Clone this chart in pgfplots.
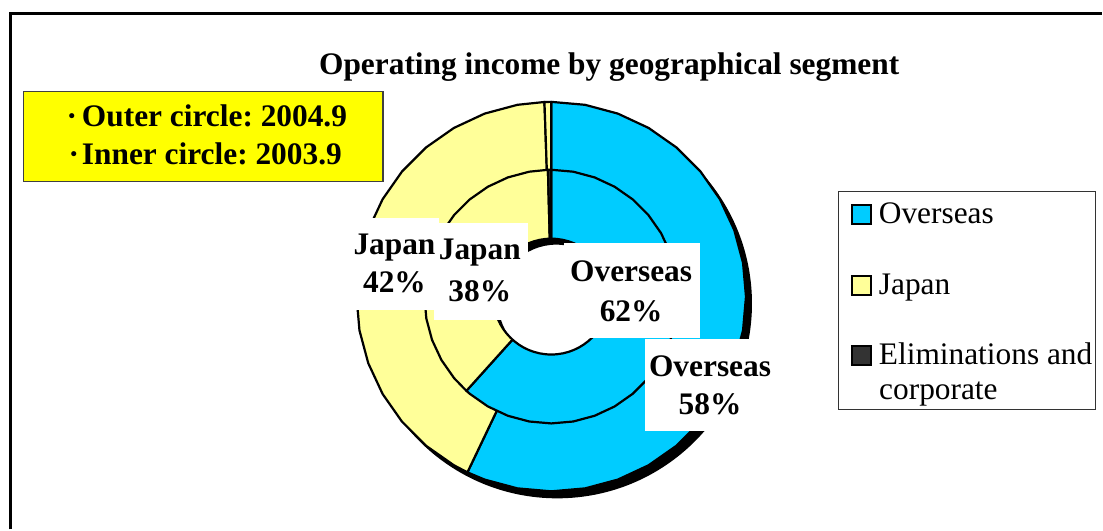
\documentclass[border=0pt]{standalone}
\usepackage{pgfplots}
\pgfplotsset{compat=1.18}
\usepackage{fontspec}
\setmainfont{Liberation Serif}
\frenchspacing
\definecolor{ovs}{HTML}{00CCFF}
\definecolor{jpn}{HTML}{FFFF99}
\definecolor{elim}{HTML}{333333}
\definecolor{ybox}{HTML}{FFFF00}
\newcommand\fs{\fontsize{15.7}{18}\selectfont}
\newcommand\swatch[1]{\raisebox{0.5pt}{\setlength\fboxsep{0pt}\setlength\fboxrule{1pt}\fcolorbox{black}{#1}{\rule{0pt}{8.5pt}\rule{8.5pt}{0pt}}}}
\tikzset{lbl/.style={font=\fs\bfseries,anchor=base,inner sep=0pt},
leg/.style={font=\fs,anchor=base west,inner sep=0pt}}
\pgfplotsset{pol/.style={data cs=polar,draw=black,line width=1.1pt,line join=round}}

\begin{document}
\begin{tikzpicture}
\begin{axis}[scale only axis,width=551.5pt,height=265pt,
xmin=-552,xmax=551,ymin=-233,ymax=297,hide axis,clip=false,enlargelimits=false]
% whole picture area, so the page keeps the reference's size
\path (axis cs:-552,-233) rectangle (axis cs:551,297);
% frame of the chart area
\draw[line width=1.5pt] (axis cs:-541,-233) -- (axis cs:-541,283) -- (axis cs:551,283);
% shadow of the rings
\fill[black] (axis cs:6,-7) circle[radius=195];
% outer circle (2004.9): Overseas 58%, Japan 42%, eliminations (tiny)
\addplot[pol,fill=ovs] coordinates {(0,0) (90,195) (80,195) (70,195) (60,195) (50,195) (40,195) (30,195) (20,195) (10,195) (0,195) (-10,195) (-20,195) (-30,195) (-40,195) (-50,195) (-60,195) (-70,195) (-80,195) (-90,195) (-100,195) (-110,195) (-115.5,195)} -- cycle;
\addplot[pol,fill=jpn] coordinates {(0,0) (244.5,195) (240,195) (230,195) (220,195) (210,195) (200,195) (190,195) (180,195) (170,195) (160,195) (150,195) (140,195) (130,195) (120,195) (110,195) (100,195) (92,195)} -- cycle;
\addplot[pol,fill=jpn] coordinates {(0,0) (92,195) (90,195)} -- cycle;
% inner circle (2003.9): Overseas 62%, Japan 38%, eliminations (tiny)
\addplot[pol,fill=ovs] coordinates {(0,0) (90,127) (80,127) (70,127) (60,127) (50,127) (40,127) (30,127) (20,127) (10,127) (0,127) (-10,127) (-20,127) (-30,127) (-40,127) (-50,127) (-60,127) (-70,127) (-80,127) (-90,127) (-100,127) (-110,127) (-120,127) (-130,127) (-132,127)} -- cycle;
\addplot[pol,fill=jpn] coordinates {(0,0) (228,127) (220,127) (210,127) (200,127) (190,127) (180,127) (170,127) (160,127) (150,127) (140,127) (130,127) (120,127) (110,127) (100,127) (91.5,127)} -- cycle;
\addplot[pol,fill=elim] coordinates {(0,0) (91.5,127) (90,127)} -- cycle;
% hole with its shadow
\fill[white] (axis cs:0,0) circle[radius=58];
\begin{scope}
\clip (axis cs:0,0) circle[radius=58];
\fill[black,even odd rule] (axis cs:-80,-80) rectangle (axis cs:80,80) (axis cs:5,-6) circle[radius=58];
\end{scope}
\draw[line width=1.1pt] (axis cs:0,0) circle[radius=58];
% data labels
\fill[white] (axis cs:-197,78.7) rectangle (axis cs:-112,-13);
\fill[white] (axis cs:-117,73.7) rectangle (axis cs:-23.7,-23);
\fill[white] (axis cs:13,53.7) rectangle (axis cs:149,-41.3);
\fill[white] (axis cs:94,-42.3) rectangle (axis cs:224,-134.7);
\node[lbl] at (axis cs:-157,42) {Japan};
\node[lbl] at (axis cs:-157,4) {42\%};
\node[lbl] at (axis cs:-71.5,37) {Japan};
\node[lbl] at (axis cs:-71.5,-5) {38\%};
\node[lbl] at (axis cs:80,15.3) {Overseas};
\node[lbl] at (axis cs:80,-24.7) {62\%};
\node[lbl] at (axis cs:159,-79.7) {Overseas};
\node[lbl] at (axis cs:159,-118) {58\%};
% title
\node[lbl] at (axis cs:58,222) {Operating income by geographical segment};
% yellow note
\draw[line width=0.75pt,draw=black!75,fill=ybox] (axis cs:-528.7,205.3) rectangle (axis cs:-168.7,115.3);
\node[lbl] at (axis cs:-480,170.3) {·};
\node[lbl] at (axis cs:-478,132) {·};
\node[lbl,anchor=base west] at (axis cs:-470.3,170.3) {Outer circle: 2004.9};
\node[lbl,anchor=base west] at (axis cs:-470.3,132) {Inner circle: 2003.9};
% legend
\draw[line width=0.6pt,draw=black!80,fill=white] (axis cs:287.3,105.3) rectangle (axis cs:545,-113);
\node[leg] at (axis cs:299.7,72.7) {\swatch{ovs}\hspace{3.5pt}Overseas};
\node[leg] at (axis cs:299.7,2) {\swatch{jpn}\hspace{3.5pt}Japan};
\node[leg] at (axis cs:299.7,-68) {\swatch{elim}\hspace{3.5pt}Eliminations and};
\node[leg] at (axis cs:328,-103) {corporate};
\end{axis}
\end{tikzpicture}
\end{document}
